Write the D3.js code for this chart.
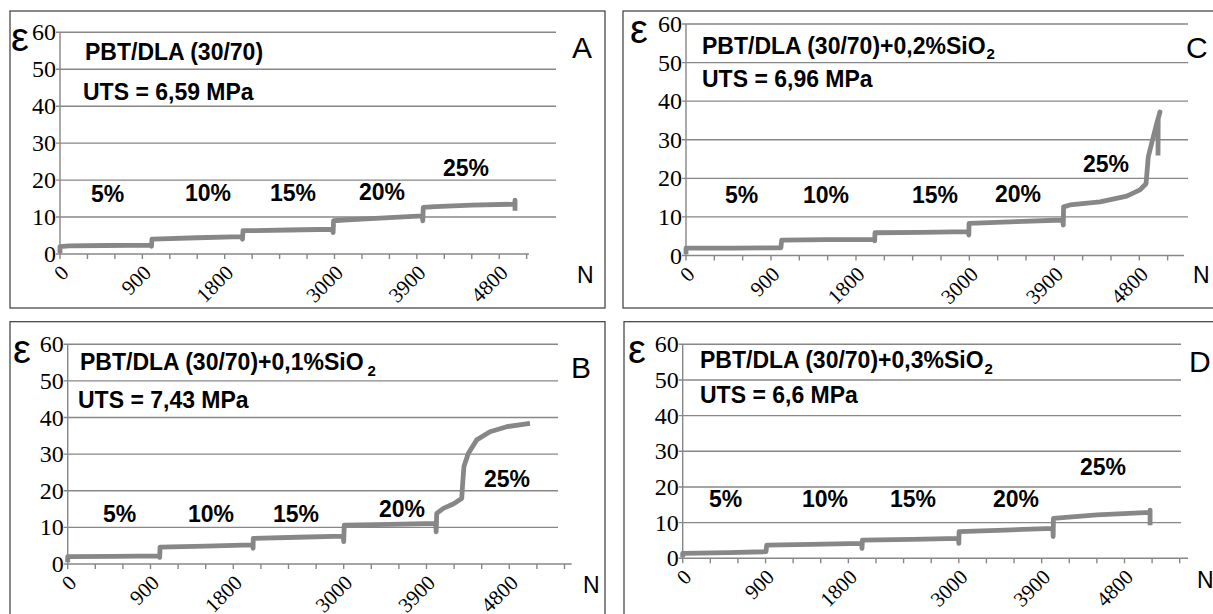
<!DOCTYPE html>
<html>
<head>
<meta charset="utf-8">
<script src="https://cdn.jsdelivr.net/npm/d3@7"></script>
<style>
body { margin: 0; background: #fff; }
</style>
</head>
<body>
<script>
// ---- data ----
var yTicks = [0, 10, 20, 30, 40, 50, 60];
var xTickLabels = [0, 900, 1800, 3000, 3900, 4800];
var levels = ["5%", "10%", "15%", "20%", "25%"];
var panelNames = ["A", "B", "C", "D"];
var titles = ["PBT/DLA (30/70)", "PBT/DLA (30/70)+0,1%SiO", "PBT/DLA (30/70)+0,2%SiO", "PBT/DLA (30/70)+0,3%SiO"];
var subscripts = ["", "2", "2", "2"];
var utsValues = ["6,59", "7,43", "6,96", "6,6"];

// strain vs number of cycles, [N, eps]
var curveA = [[0,0.3],[0,2.0],[100,2.2],[500,2.3],[990,2.4],[1000,2.1],[1005,4.0],[1100,4.1],[1500,4.4],[1990,4.7],[1995,4.0],
  [2000,6.3],[2100,6.3],[2500,6.5],[2980,6.7],[2985,5.8],[2990,9.0],[3100,9.2],[3500,9.7],[3960,10.3],[3965,9.0],
  [3970,12.6],[4100,12.8],[4500,13.2],[4970,13.5],[4973,14.6],[4973,11.7]];
var curveB = [[0,0.5],[0,2.0],[500,2.1],[995,2.2],[1000,1.8],[1004,4.6],[1500,4.9],[2010,5.2],[2015,4.3],[2017,7.0],
  [2500,7.3],[2995,7.6],[3000,6.1],[3006,10.6],[3500,10.8],[4000,11.1],[4005,8.8],[4011,13.8],[4083,15.2],[4191,16.4],
  [4283,17.9],[4293,22.0],[4307,26.6],[4354,30.2],[4446,33.9],[4590,36.1],[4772,37.5],[5025,38.4]];
var curveC = [[0,0.3],[0,1.9],[500,1.9],[1005,2.0],[1013,4.0],[1500,4.1],[1995,4.2],[1998,3.8],[2001,5.9],[2500,6.0],
  [2990,6.2],[2995,5.3],[2997,8.3],[3500,8.8],[3990,9.2],[3995,7.9],[3998,12.6],[4066,13.1],[4384,13.9],[4667,15.4],
  [4807,17.0],[4871,18.6],[4895,25.6],[4931,29.1],[4984,34.2],[5019,37.2],[5000,35.5],[4998,25.9]];
var curveD = [[0,0.3],[0,1.4],[500,1.6],[905,1.85],[913,3.7],[1400,3.9],[1945,4.2],[1948,2.8],[1952,5.1],[2500,5.3],
  [2998,5.6],[3000,4.2],[3003,7.5],[3500,7.9],[4022,8.4],[4025,6.1],[4028,11.2],[4500,12.2],[5078,12.9],[5078,13.5],[5078,9.3]];
var curves = [curveA, curveB, curveC, curveD];

// ---- layout of the four panels (pixels) ----
var panels = [
  { box: [10, 11, 595, 297], left: 60, y0: 254, y60: 32.3, kx: 0.0915, gridEnd: 556, axisEnd: 529, tickMax: 5100,
    title: [85, 60], sub: [0, 0], uts: [83, 100], eps: 11, letter: [572, 58], n: [577, 283],
    pct: [[91, 201.5], [185, 201], [270, 201], [359, 200], [443, 176]] },
  { box: [10, 321.7, 595, 400], left: 67.7, y0: 564, y60: 344.3, kx: 0.092, gridEnd: 558, axisEnd: 571.7, tickMax: 5400,
    title: [80, 370], sub: [4, 6], uts: [78, 408], eps: 13, letter: [571, 378], n: [583, 593],
    pct: [[103, 521.5], [188, 522], [273, 522], [379, 516.5], [484, 486.5]] },
  { box: [623, 11, 700, 297], left: 686, y0: 255.5, y60: 24, kx: 0.09444, gridEnd: 1188, axisEnd: 1184, tickMax: 5100,
    title: [702, 53.5], sub: [1, 5], uts: [702, 87], eps: 630, letter: [1186, 58], n: [1193, 283],
    pct: [[725, 203], [803, 203], [912, 203], [995, 202], [1083, 172]] },
  { box: [624, 321.7, 700, 400], left: 682.7, y0: 558.3, y60: 344.3, kx: 0.09204, gridEnd: 1181, axisEnd: 1188, tickMax: 5400,
    title: [700, 368], sub: [1, 6], uts: [700, 403], eps: 628, letter: [1189, 372], n: [1197, 588],
    pct: [[709, 506.5], [802, 507], [890, 507], [993, 506.5], [1080, 475]] }
];

var grey = "#878787";
var sans = "'Liberation Sans', Arial, sans-serif";
var serif = "'Liberation Serif', 'DejaVu Serif', 'Times New Roman', serif";

var svg = d3.select("body").append("svg")
    .attr("width", 1213)
    .attr("height", 614);

function drawPanel(i) {
  var p = panels[i];
  var g = svg.append("g");

  var x = d3.scaleLinear().domain([0, 1000]).range([p.left, p.left + 1000 * p.kx]);
  var y = d3.scaleLinear().domain([0, 60]).range([p.y0, p.y60]);

  // frame round the panel
  g.append("rect")
      .attr("x", p.box[0]).attr("y", p.box[1])
      .attr("width", p.box[2]).attr("height", p.box[3])
      .attr("fill", "none")
      .attr("stroke", "#3a3a3a")
      .attr("stroke-width", 1.2);

  // horizontal gridlines
  g.selectAll(".grid").data(yTicks.filter(function(d) { return d > 0; }))
    .enter().append("line")
      .attr("x1", p.left - 4).attr("x2", p.gridEnd)
      .attr("y1", function(d) { return y(d); })
      .attr("y2", function(d) { return y(d); })
      .attr("stroke", grey)
      .attr("stroke-width", 1.4);

  // y axis and x axis
  g.append("line")
      .attr("x1", p.left).attr("x2", p.left)
      .attr("y1", y(0)).attr("y2", y(60))
      .attr("stroke", grey).attr("stroke-width", 1.4);
  g.append("line")
      .attr("x1", p.left - 4).attr("x2", p.axisEnd)
      .attr("y1", y(0)).attr("y2", y(0))
      .attr("stroke", grey).attr("stroke-width", 1.4);

  // minor ticks on the x axis
  g.selectAll(".xt").data(d3.range(0, p.tickMax + 1, 300))
    .enter().append("line")
      .attr("x1", function(d) { return x(d); })
      .attr("x2", function(d) { return x(d); })
      .attr("y1", y(0)).attr("y2", y(0) + 5)
      .attr("stroke", grey).attr("stroke-width", 1.4);

  // y tick labels
  g.selectAll(".yl").data(yTicks)
    .enter().append("text")
      .style("font-family", serif)
      .style("font-size", "24px")
      .attr("x", p.left - 4)
      .attr("y", function(d) { return y(d) + 8; })
      .attr("text-anchor", "end")
      .text(function(d) { return d; });

  // rotated x tick labels
  g.selectAll(".xl").data(xTickLabels)
    .enter().append("text")
      .style("font-family", serif)
      .style("font-size", "21px")
      .attr("text-anchor", "end")
      .attr("transform", function(d) { return "translate(" + (x(d) + 10) + "," + (y(0) + 20) + ") rotate(-45)"; })
      .text(function(d) { return d; });

  // the strain curve
  var line = d3.line()
      .x(function(d) { return x(d[0]); })
      .y(function(d) { return y(d[1]); });
  g.append("path")
      .attr("d", line(curves[i]))
      .attr("fill", "none")
      .attr("stroke", grey)
      .attr("stroke-width", 4.8)
      .attr("stroke-linejoin", "round");

  // epsilon symbol
  g.append("text")
      .style("font-family", sans)
      .style("font-size", "40px")
      .attr("x", p.eps).attr("y", y(60) + 19)
      .text("\u03B5");

  // title with SiO2 subscript
  var t = g.append("text")
      .style("font-family", sans)
      .style("font-size", "23px")
      .style("font-weight", "bold")
      .attr("x", p.title[0]).attr("y", p.title[1])
      .text(titles[i]);
  if (subscripts[i]) {
    t.append("tspan")
        .style("font-size", "15px")
        .attr("dx", p.sub[0]).attr("dy", p.sub[1])
        .text(subscripts[i]);
  }

  g.append("text")
      .style("font-family", sans)
      .style("font-size", "23px")
      .style("font-weight", "bold")
      .attr("x", p.uts[0]).attr("y", p.uts[1])
      .text("UTS = " + utsValues[i] + " MPa");

  // strain level labels
  g.selectAll(".pct").data(levels)
    .enter().append("text")
      .style("font-family", sans)
      .style("font-size", "23px")
      .style("font-weight", "bold")
      .attr("x", function(d, k) { return p.pct[k][0]; })
      .attr("y", function(d, k) { return p.pct[k][1]; })
      .text(function(d) { return d; });

  // panel letter and axis name
  g.append("text")
      .style("font-family", sans)
      .style("font-size", "30px")
      .attr("x", p.letter[0]).attr("y", p.letter[1])
      .text(panelNames[i]);
  g.append("text")
      .style("font-family", sans)
      .style("font-size", "23px")
      .attr("x", p.n[0]).attr("y", p.n[1])
      .text("N");
}

for (var i = 0; i < panels.length; i++) drawPanel(i);
</script>
</body>
</html>
